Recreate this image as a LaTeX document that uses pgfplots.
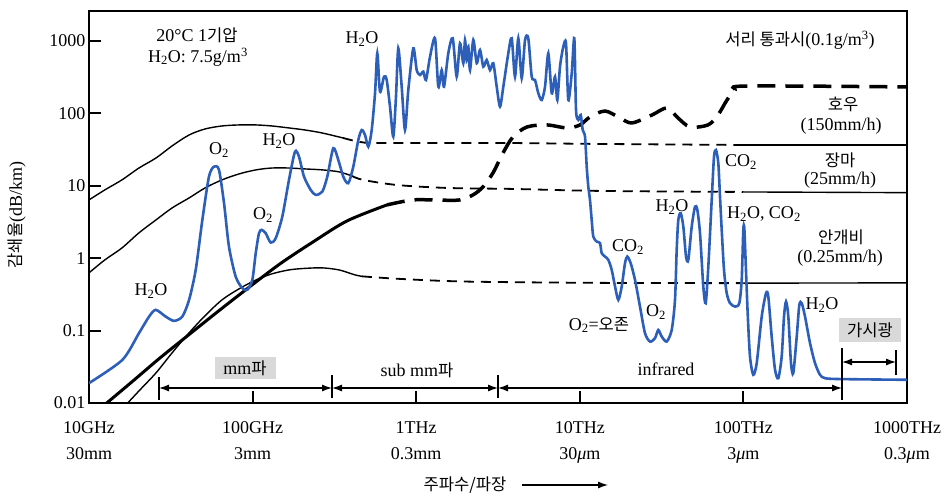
\documentclass[border=0pt]{standalone}
\usepackage{pgfplots}
\pgfplotsset{compat=1.18}
\usepackage{fontspec}
\setmainfont{Liberation Serif}
\newfontfamily\kr{Noto Sans CJK KR}[Scale=0.92]
\usetikzlibrary{arrows.meta}
\definecolor{bluec}{RGB}{45,95,185}
\newcommand\fs{\fontsize{18}{26}\selectfont}
\newcommand\sub[1]{\textsubscript{#1}}
\begin{document}
\begin{tikzpicture}[font=\fs]
\begin{axis}[
 scale only axis, width=818pt, height=392pt,
 xmode=log, ymode=log,
 xmin=10, xmax=1e6, ymin=0.01, ymax=2570,
 xtick={10,100,1000,10000,100000,1000000},
 xticklabels={{10GHz\\30mm},{100GHz\\3mm},{1THz\\0.3mm},{10THz\\30\textit{μ}m},{100THz\\3\textit{μ}m},{1000THz\\0.3\textit{μ}m}},
 ytick={0.01,0.1,1,10,100,1000},
 yticklabels={0.01,0.1,1,10,100,1000},
 minor xtick={}, minor ytick={},
 xtick pos=bottom, ytick pos=left, tick align=inside,
 major tick length=12pt,
 minor tick length=0pt,
 every tick/.style={black, line width=2pt},
 tick label style={font=\fs},
 xticklabel style={align=center, yshift=-15pt},
 axis line style={line width=1.6pt},
]
% rain 150 mm/h
\addplot[black, line width=1.4pt, smooth] coordinates {(10,6.35)(12.5,8.73)(15.9,12.0)(20.2,17.5)(25.7,24.1)(32.2,35.3)(40.9,50.0)(51.2,60.5)(65.0,66.6)(82.6,68.8)(105,68.8)(131,66.6)(167,62.5)(209,58.6)(266,53.3)(357,45.5)};
\addplot[black, line width=1.8pt, dash pattern=on 10pt off 7pt, smooth] coordinates {(357,45.5)(453,40.1)(601,38.8)(3250,38.8)(13290,37.6)(100000,36.4)};
\addplot[black, line width=1.4pt] coordinates {(100000,36.4)(1000000,36.4)};
% rain 25 mm/h
\addplot[black, line width=1.4pt, smooth] coordinates {(10,0.625)(12.5,0.944)(15.9,1.38)(20.2,2.23)(25.7,3.37)(32.2,4.92)(40.9,6.76)(51.2,9.29)(65.0,12.0)(82.6,14.5)(105,16.5)(131,17.5)(167,17.5)(209,17.0)(266,16.5)(337,15.5)(405,13.6)};
\addplot[black, line width=1.8pt, dash pattern=on 10pt off 7pt, smooth] coordinates {(405,13.6)(473,12.0)(763,10.2)(1543,9.29)(3906,9.00)(13290,8.45)(100000,8.18)};
\addplot[black, line width=1.4pt] coordinates {(100000,8.18)(1000000,8.0)};
% drizzle 0.25 mm/h
\addplot[black, line width=1.4pt, smooth] coordinates {(17.1,0.0098)(20.5,0.0152)(25.7,0.0261)(32.2,0.0492)(40.9,0.0929)(51.2,0.160)(65.0,0.265)(82.6,0.376)(105,0.500)(131,0.605)(167,0.687)(209,0.721)(266,0.733)(337,0.687)(423,0.586)(466,0.560)};
\addplot[black, line width=1.8pt, dash pattern=on 10pt off 7pt, smooth] coordinates {(466,0.560)(796,0.516)(2044,0.474)(13290,0.455)(100000,0.451)};
\addplot[black, line width=1.4pt] coordinates {(100000,0.451)(1000000,0.455)};
% fog 0.1 g/m3
\addplot[black, line width=3pt, smooth] coordinates {(12.7,0.0098)(18.6,0.0202)(27.2,0.0420)(41.4,0.0900)(63.2,0.193)(92.4,0.376)(147,0.832)(234,1.67)(378,3.26)(663,5.42)};
\addplot[black, line width=3.5pt, dash pattern=on 18pt off 10pt, smooth] coordinates {(663,5.42)(956,6.35)(1398,6.3)(1852,6.35)(2224,7.45)(2560,9.59)(2948,15.0)(3393,28.2)(3906,47.0)(4757,64.5)(6303,68.8)(8353,62.5)(10030,68.8)(11540,88.6)(14260,107)(17610,85.9)(20850,73.3)(27630,94.4)(34120,118)(39840,85.9)(47180,64.5)(60770,68.8)(69950,94.4)(79390,152)(88870,209)(105200,237)(1000000,230)};
% clear air spectrum
\addplot[bluec, line width=2.6pt, smooth, tension=0.45] coordinates {
(10,0.0188)(16.0,0.0394)(20.2,0.092)(23.3,0.156)(25.6,0.193)(29.4,0.156)(33.1,0.136)(37.2,0.156)(40.9,0.265)(44.9,0.687)(49.3,3.365)(54.1,13.3)(58.1,18.3)(62.3,16.5)(66.9,5.71)(71.7,1.442)(78.8,0.556)(86.5,0.385)(92.8,0.364)(99.6,0.500)(104.5,1.169)(109.4,2.203)(113.7,2.449)(120.2,2.203)(129.0,1.637)(138.4,1.879)(151.9,3.733)(166.9,12.0)(181.6,29.4)(192.1,25.1)(206.2,13.3)(226.5,8.73)(243.0,7.45)(266.7,8.26)(286.1,13.3)(311.4,32.8)(334.1,22.6)(358.4,13.3)(384.6,10.8)(412.6,18.3)(442.8,42.7)(464.5,58.6)(486.6,50.0)(509.7,34.5)(534.6,58.6)(560.1,188)(578.4,670)(600.7,198)(635.6,319)(660.2,287)(691.6,123)(724.4,47.4)(752.4,169)(777.2,785)(815.3,232)(854.1,58.6)(894.8,209)(960.0,785)(1007,394)(1055,336)(1105,374)(1148,287)(1215,602)(1303,1079)(1365,232)(1432,394)(1479,232)(1571,670)(1672,1079)(1768,319)(1852,920)(1941,488)(1988,1022)(2036,542)(2082,826)(2133,394)(2234,1022)(2344,488)(2455,745)(2572,438)(2697,542)(2826,394)(2960,488)(3105,232)(3253,123)(3408,232)(3656,670)(3835,1079)(4017,319)(4209,1079)(4414,303)(4626,1022)(4844,1079)(5082,319)(5324,287)(5578,188)(5850,152)(6129,232)(6421,670)(6734,188)(7054,319)(7289,152)(7568,438)(7929,826)(8235,920)(8505,152)(8925,355)(9256,1079)(9481,111)(9791,80.6)(10130,94.4)(10420,58.6)(10760,47.4)(11020,18.3)(11270,9.68)(11540,6.35)(11820,3.365)(12090,1.98)(12690,1.69)(13290,1.61)(13610,1.169)(14260,1.05)(14940,0.944)(15670,0.687)(16420,0.405)(17200,0.265)(18040,0.405)(18890,0.851)(19520,1.05)(20470,0.851)(21750,0.500)(23330,0.214)(25030,0.092)(26860,0.0705)(28820,0.0785)(30190,0.102)(31670,0.0826)(33980,0.0705)(36460,0.102)(38190,0.265)(39110,1.297)(40010,3.365)(41390,4.16)(42930,2.72)(44590,1.05)(46060,0.944)(48310,2.72)(50610,5.13)(52290,4.62)(54300,2.203)(56870,0.405)(58830,0.239)(61030,0.764)(64020,6.35)(66120,25.1)(68000,31.0)(70250,20.4)(71940,7.05)(73700,2.449)(76120,0.687)(79070,0.328)(82810,0.239)(88880,0.214)(94380,0.239)(97630,0.5)(99860,2.449)(101300,2.58)(103300,0.851)(106200,0.174)(109700,0.0438)(114900,0.0245)(120600,0.0355)(129400,0.156)(137500,0.328)(142000,0.294)(148900,0.0826)(156100,0.0287)(163500,0.0220)(171400,0.0438)(177100,0.156)(182200,0.251)(188200,0.156)(195400,0.0355)(201800,0.0258)(211800,0.0826)(219700,0.226)(227200,0.239)(238000,0.156)(255400,0.067)(274000,0.0355)(293900,0.0245)(315400,0.0220)(389500,0.0214)(1000000,0.0209)};
\end{axis}
\begin{scope}[x=1pt,y=1pt]
\node at (108,368) {20°C 1{\kr 기압}};
\node at (109,346) {H\sub{2}O: 7.5g/m\textsuperscript{3}};
\node at (130,253) {O\sub{2}};
\node at (190,262) {H\sub{2}O};
\node at (174,188) {O\sub{2}};
\node at (62,112) {H\sub{2}O};
\node at (273,364) {H\sub{2}O};
\node at (711,363) {{\kr 서리 통과시}(0.1g/m\textsuperscript{3})};
\node at (754,299) {\kr 호우};
\node at (752,277) {(150mm/h)};
\node at (751,243) {\kr 장마};
\node at (751,223) {(25mm/h)};
\node at (652,241) {CO\sub{2}};
\node at (675,189) {H\sub{2}O, CO\sub{2}};
\node at (752,166) {\kr 안개비};
\node at (751,145) {(0.25mm/h)};
\node at (733,98) {H\sub{2}O};
\node at (583,196) {H\sub{2}O};
\node at (539,156) {CO\sub{2}};
\node at (567,91) {O\sub{2}};
\node at (510,78) {O\sub{2}={\kr 오존}};
\node[fill=black!15, minimum width=61pt, minimum height=22pt, inner sep=0pt] at (156,35) {mm{\kr 파}};
\node[fill=black!15, minimum width=62pt, minimum height=24pt, inner sep=0pt] at (781,73) {\kr 가시광};
\node at (328,33) {sub mm{\kr 파}};
\node at (577,34) {infrared};
\draw[line width=1.2pt, {Latex[length=10pt,width=7pt]}-{Latex[length=10pt,width=7pt]}] (70,15) -- (243,15);
\draw[line width=1.2pt, {Latex[length=10pt,width=7pt]}-{Latex[length=10pt,width=7pt]}] (243,15) -- (409,15);
\draw[line width=1.2pt, {Latex[length=10pt,width=7pt]}-{Latex[length=10pt,width=7pt]}] (409,15) -- (753,15);
\draw[line width=1.2pt, {Latex[length=10pt,width=7pt]}-{Latex[length=10pt,width=7pt]}] (753,41) -- (807,41);
\draw[line width=1.2pt] (70,3) -- (70,26);
\draw[line width=1.2pt] (243,5) -- (243,28);
\draw[line width=1.2pt] (409,5) -- (409,28);
\draw[line width=1.2pt] (753,3) -- (753,55);
\draw[line width=1.2pt] (807,28) -- (807,53);
\node at (376,-82) {\kr 주파수/파장};
\draw[line width=1.2pt, -{Latex[length=10pt,width=7pt]}] (433,-82) -- (519,-82);
\node[rotate=90] at (-72,188) {{\kr 감쇄율}(dB/km)};
\end{scope}
\pgfresetboundingbox
\path[use as bounding box] (-89pt,-93pt) rectangle (856pt,403pt);
\end{tikzpicture}
\end{document}
